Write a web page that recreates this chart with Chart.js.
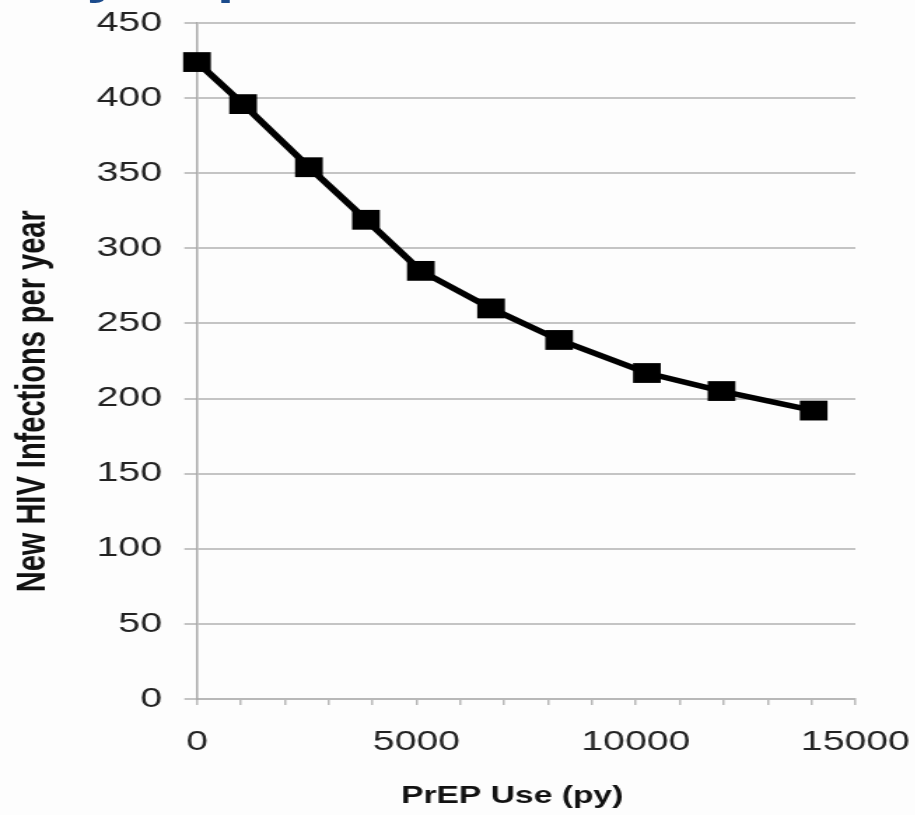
<!DOCTYPE html>
<html>
<head>
<meta charset="utf-8">
<script src="https://cdn.jsdelivr.net/npm/chart.js@4"></script>
<style>
  html, body { margin: 0; padding: 0; background: #fdfdfd; overflow: hidden; }
  /* the source picture is stretched sideways, so draw narrow and scale on x */
  #wrap {
    position: absolute; left: 0; top: 0;
    width: 654px; height: 815px;
    transform: scaleX(1.4); transform-origin: 0 0;
  }
  /* bottoms of a cut-off heading above the chart */
  .cut {
    position: absolute; top: -43px;
    font: bold 44px "Liberation Sans", Arial, sans-serif;
    line-height: 1; color: #1b4b8c; white-space: pre;
  }
</style>
</head>
<body>
<div id="wrap">
  <span class="cut" style="left:62px">y</span>
  <span class="cut" style="left:155px">p</span>
  <canvas id="chart" width="654" height="815"></canvas>
</div>
<script>
// data
const prepUse = [0, 1050, 2550, 3850, 5100, 6700, 8250, 10250, 11950, 14050];
const newInfections = [424, 396, 354, 319, 285, 260, 239, 217, 205, 192];
const xLabelTicks = [0, 5000, 10000, 15000]; // labelled ones, minor every 1000
const yTicks = [0, 50, 100, 150, 200, 250, 300, 350, 400, 450];

// trailing spaces nudge the titles off-centre, like in the picture
const xTitle = "PrEP Use (py)" + "\u00a0".repeat(3);
const yTitle = "New HIV Infections per year" + "\u00a0".repeat(10);

const points = prepUse.map((x, i) => ({ x: x, y: newInfections[i] }));

const ctx = document.getElementById("chart");

new Chart(ctx, {
  type: "line",
  data: {
    datasets: [
      {
        data: points,
        borderColor: "#000",
        borderWidth: 5.5,
        backgroundColor: "#000",
        pointStyle: "rect",
        pointRadius: 14,
        pointBorderWidth: 0,
        pointBackgroundColor: "#000",
        tension: 0,
        clip: false,
      },
    ],
  },
  options: {
    responsive: false,
    animation: false,
    layout: { padding: { top: 23, right: 43, left: 0, bottom: 0 } },
    plugins: { legend: { display: false }, tooltip: { enabled: false } },
    scales: {
      x: {
        type: "linear",
        min: 0,
        max: 15000,
        afterFit: (axis) => {
          axis.height = 116;
          axis.paddingLeft = 0;
          axis.paddingRight = 0;
        },
        ticks: {
          stepSize: 1000,
          autoSkip: false,
          maxRotation: 0,
          padding: 20,
          color: "#222",
          font: { family: "'Liberation Sans', Arial, sans-serif", size: 28 },
          callback: (v) => (xLabelTicks.includes(v) ? String(v) : ""),
        },
        grid: {
          drawOnChartArea: false,
          drawTicks: true,
          tickLength: 6,
          color: "#b8b8b8",
          lineWidth: 1.5,
        },
        border: { display: true, color: "#b8b8b8", width: 2 },
        title: {
          display: true,
          text: xTitle,
          color: "#111",
          font: { family: "'Liberation Sans', Arial, sans-serif", size: 24, weight: "bold" },
          padding: { top: 10, bottom: 4 },
        },
      },
      y: {
        min: 0,
        max: 450,
        afterFit: (axis) => {
          axis.width = 140.7;
          axis.paddingTop = 0;
          axis.paddingBottom = 0;
        },
        afterBuildTicks: (axis) => {
          axis.ticks = yTicks.map((v) => ({ value: v }));
        },
        ticks: {
          padding: 16,
          color: "#222",
          font: { family: "'Liberation Sans', Arial, sans-serif", size: 28 },
        },
        grid: {
          drawTicks: true,
          tickLength: 9,
          color: "#c4c4c4",
          lineWidth: 2,
        },
        border: { display: true, color: "#a8a8a8", width: 1.5 },
        title: {
          display: true,
          text: yTitle,
          color: "#111",
          font: { family: "'Liberation Sans', Arial, sans-serif", size: 29, weight: "bold" },
          padding: { top: 7, bottom: 12 },
        },
      },
    },
  },
});
</script>
</body>
</html>
